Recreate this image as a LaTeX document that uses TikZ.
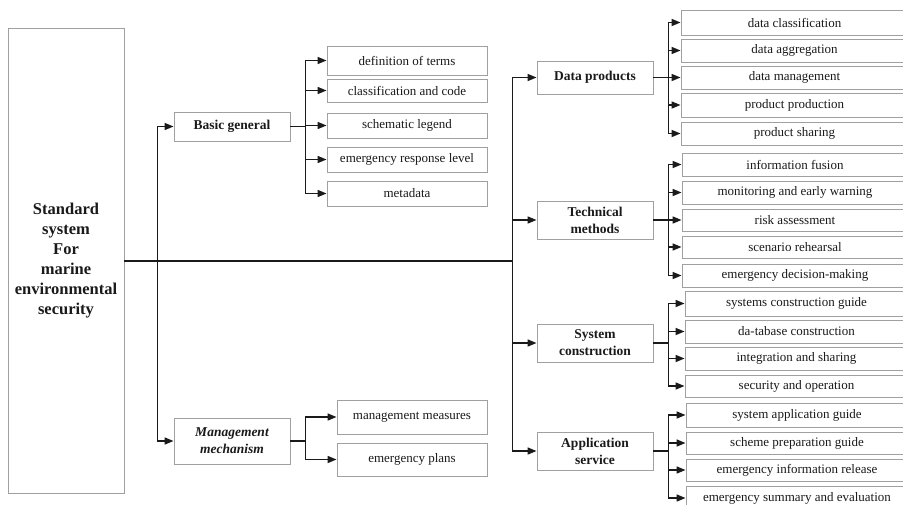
\documentclass[tikz,border=0pt]{standalone}
\usepackage{fontspec}
\setmainfont{Liberation Serif}
\usetikzlibrary{arrows.meta}
\definecolor{boxgray}{HTML}{A0A0A0}
\definecolor{ink}{HTML}{1A1A1A}
\tikzset{
  rootbox/.style={draw=boxgray,line width=0.9pt,inner sep=0pt,align=center,text=ink,
    font=\fontsize{16.5}{20}\selectfont\bfseries,minimum width=116pt,minimum height=465pt},
  midbox/.style={draw=boxgray,line width=0.9pt,inner sep=0pt,align=center,text=ink,
    font=\fontsize{13.5}{17}\selectfont\bfseries,minimum width=116pt},
  leafbox/.style={draw=boxgray,line width=0.9pt,inner sep=0pt,align=center,text=ink,
    font=\fontsize{13}{15}\selectfont},
  arr/.style={draw=ink,line width=1.6pt,-{Triangle[length=9pt,width=7pt]}},
  trunk/.style={draw=ink,line width=2pt}
}
\begin{document}
\begin{tikzpicture}[x=1pt,y=-1pt]
\clip (0,0) rectangle (903,504);
\fill[white] (0,0) rectangle (903,504);
% root
\node[rootbox] (root) at (66,261) {Standard\\system\\For\\marine\\environmental\\security};
% middle boxes
\node[midbox,minimum height=29pt] (bg) at (232,126.5) {Basic general};
\node[midbox,minimum height=46pt] (mm) at (232,441) {\itshape Management\\\itshape mechanism};
\node[midbox,minimum height=33pt] (dp) at (595,77.5) {Data products};
\node[midbox,minimum height=38pt] (tm) at (595,220) {Technical\\methods};
\node[midbox,minimum height=38pt] (sc) at (595,343) {System\\construction};
\node[midbox,minimum height=38pt] (as) at (595,451) {Application\\service};
% basic general children
\begin{scope}[every node/.style={leafbox,minimum width=160pt}]
\node[minimum height=29pt] (b1) at (407,60.5) {definition of terms};
\node[minimum height=23pt] (b2) at (407,90.5) {classification and code};
\node[minimum height=25pt] (b3) at (407,125.5) {schematic legend};
\node[minimum height=25pt] (b4) at (407,159.5) {emergency response level};
\node[minimum height=25pt] (b5) at (407,193.5) {metadata};
\end{scope}
% management children
\begin{scope}[every node/.style={leafbox,minimum width=150pt}]
\node[minimum height=34pt] (m1) at (412,417) {management measures};
\node[minimum height=33pt] (m2) at (412,459.5) {emergency plans};
\end{scope}
% data products children
\begin{scope}[every node/.style={leafbox,minimum width=227pt}]
\node[minimum height=25pt] (d1) at (794.5,22.5) {data classification};
\node[minimum height=23pt] (d2) at (794.5,50.5) {data aggregation};
\node[minimum height=23pt] (d3) at (794.5,77.5) {data management};
\node[minimum height=24pt] (d4) at (794.5,105) {product production};
\node[minimum height=23pt] (d5) at (794.5,133.5) {product sharing};
\end{scope}
% technical methods children
\begin{scope}[every node/.style={leafbox,minimum width=226pt}]
\node[minimum height=23pt] (t1) at (795,164.5) {information fusion};
\node[minimum height=23pt] (t2) at (795,192.5) {monitoring and early warning};
\node[minimum height=22pt] (t3) at (795,220) {risk assessment};
\node[minimum height=22pt] (t4) at (795,247) {scenario rehearsal};
\node[minimum height=23pt] (t5) at (795,275.5) {emergency decision-making};
\end{scope}
% system construction children
\begin{scope}[every node/.style={leafbox,minimum width=223pt}]
\node[minimum height=25pt] (s1) at (796.5,303.5) {systems construction guide};
\node[minimum height=23pt] (s2) at (796.5,331.5) {da-tabase construction};
\node[minimum height=23pt] (s3) at (796.5,358.5) {integration and sharing};
\node[minimum height=22pt] (s4) at (796.5,386) {security and operation};
\end{scope}
% application service children
\begin{scope}[every node/.style={leafbox,minimum width=222pt}]
\node[minimum height=24pt] (a1) at (797,415) {system application guide};
\node[minimum height=22pt] (a2) at (797,443) {scheme preparation guide};
\node[minimum height=22pt] (a3) at (797,470) {emergency information release};
\node[minimum height=24pt] (a4) at (797,498) {emergency summary and evaluation};
\end{scope}
% trunk
\coordinate (tend) at ([xshift=388pt]root.east);
\draw[trunk] (root.east) -- (tend);
% root to middle boxes
\draw[arr] (root.east) -- ++(33,0) |- (bg.west);
\draw[arr] (root.east) -- ++(33,0) |- (mm.west);
\foreach \p in {dp,tm,sc,as}{
  \draw[arr] (root.east) -- (tend) |- (\p.west);
}
% middle to leaves
\foreach \c in {b1,b2,b3,b4,b5}{\draw[arr] (bg.east) -- ++(15,0) |- (\c.west);}
\foreach \c in {m1,m2}{\draw[arr] (mm.east) -- ++(15,0) |- (\c.west);}
\foreach \c in {d1,d2,d3,d4,d5}{\draw[arr] (dp.east) -- ++(15,0) |- (\c.west);}
\foreach \c in {t1,t2,t3,t4,t5}{\draw[arr] (tm.east) -- ++(15,0) |- (\c.west);}
\foreach \c in {s1,s2,s3,s4}{\draw[arr] (sc.east) -- ++(15,0) |- (\c.west);}
\foreach \c in {a1,a2,a3,a4}{\draw[arr] (as.east) -- ++(15,0) |- (\c.west);}
\end{tikzpicture}
\end{document}
